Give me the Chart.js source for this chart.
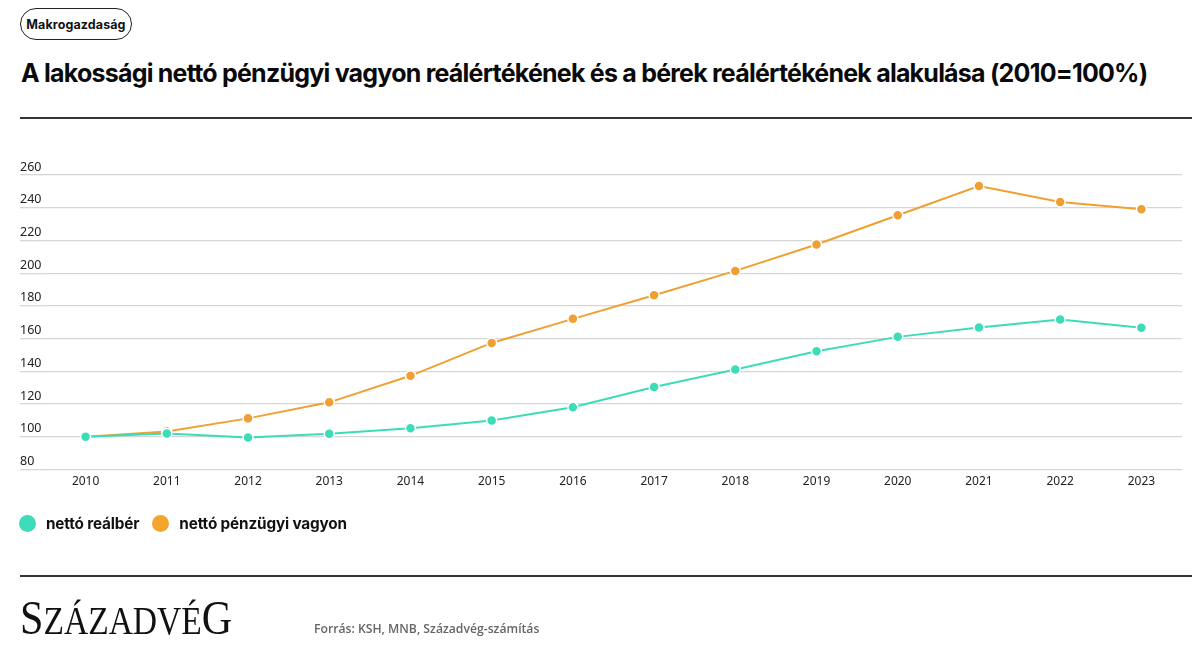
<!DOCTYPE html>
<html>
<head>
<meta charset="utf-8">
<script src="https://cdn.jsdelivr.net/npm/chart.js@4/dist/chart.umd.min.js"></script>
<style>
  html, body { margin: 0; padding: 0; background: #fff; }
  body { width: 1200px; height: 647px; position: relative; overflow: hidden; font-family: Inter, "Noto Sans", sans-serif; color: #111; }
  #pill { position: absolute; left: 20px; top: 8px; width: 110px; height: 30px; border: 1.3px solid #222; border-radius: 16px;
          font: 700 12.5px Inter, sans-serif; display: flex; align-items: center; justify-content: center; letter-spacing: 0.1px; }
  #title { position: absolute; left: 21px; top: 58px; font: 700 25px Inter, sans-serif; letter-spacing: -0.78px; white-space: nowrap; color: #0a0a0a; }
  .rule { position: absolute; left: 20px; width: 1172px; height: 1.5px; background: #333; }
  #chartwrap { position: absolute; left: 0; top: 0; width: 1200px; height: 647px; }
  #legend { position: absolute; left: 19px; top: 514px; display: flex; align-items: center; font: 700 15.3px Inter, sans-serif; letter-spacing: -0.15px; }
  .dot { width: 17px; height: 17px; border-radius: 50%; display: inline-block; margin-right: 10px; }
  .lg { display: flex; align-items: center; margin-right: 13px; }
  #logo { position: absolute; left: 20px; top: 593px; font-family: "Liberation Serif", "DejaVu Serif", serif; color: #111; white-space: nowrap; transform: scaleX(0.86); transform-origin: left top; line-height: 1; }
  #logo .big { font-size: 49px; }
  #logo .sm { font-size: 39px; }
  #source { position: absolute; left: 314px; top: 620px; font: 600 12.2px "Open Sans", sans-serif; color: #666; }
</style>
</head>
<body>
<div id="pill">Makrogazdaság</div>
<div id="title">A lakossági nettó pénzügyi vagyon reálértékének és a bérek reálértékének alakulása (2010=100%)</div>
<div class="rule" style="top:117px"></div>
<div id="chartwrap"><canvas id="c" width="1200" height="647"></canvas></div>
<div id="legend">
  <div class="lg"><span class="dot" style="background:#3ddcb8"></span><span id="l1"></span></div>
  <div class="lg"><span class="dot" style="background:#f4a530"></span><span id="l2"></span></div>
</div>
<div class="rule" style="top:575px"></div>
<div id="logo"><span class="big">S</span><span class="sm">ZÁZADVÉ</span><span class="big">G</span></div>
<div id="source">Forrás: KSH, MNB, Századvég-számítás</div>
<script>
const years = ['2010','2011','2012','2013','2014','2015','2016','2017','2018','2019','2020','2021','2022','2023'];
const seriesNames = ['nettó reálbér', 'nettó pénzügyi vagyon'];
const realWage = [100, 102.1, 99.6, 101.9, 105.3, 110, 118.1, 130.5, 141.1, 152.3, 161.1, 166.8, 171.7, 166.6];
const netFinancialWealth = [100, 103.3, 111.3, 121.1, 137.3, 157.4, 172.1, 186.5, 201.4, 217.5, 235.4, 253.3, 243.5, 239.1];
const yTicks = [80, 100, 120, 140, 160, 180, 200, 220, 240, 260];

const GREEN = '#3ddcb8', ORANGE = '#f0a032';
document.getElementById('l1').textContent = seriesNames[0];
document.getElementById('l2').textContent = seriesNames[1];

new Chart(document.getElementById('c'), {
  type: 'line',
  data: {
    labels: years,
    datasets: [
      { label: seriesNames[0], data: realWage, borderColor: GREEN, backgroundColor: GREEN,
        borderWidth: 2, pointRadius: 5, pointBorderColor: '#fff', pointBorderWidth: 1.5, tension: 0 },
      { label: seriesNames[1], data: netFinancialWealth, borderColor: ORANGE, backgroundColor: ORANGE,
        borderWidth: 2, pointRadius: 5, pointBorderColor: '#fff', pointBorderWidth: 1.5, tension: 0 }
    ]
  },
  options: {
    responsive: false,
    animation: false,
    layout: { padding: { left: 20, right: 18, top: 175, bottom: 153 } },
    plugins: { legend: { display: false }, tooltip: { enabled: false } },
    scales: {
      x: {
        type: 'category',
        offset: true,
        grid: { display: false, drawTicks: false },
        border: { display: false },
        ticks: { color: '#222', padding: 5, font: { family: 'Noto Sans', size: 12 }, maxRotation: 0 }
      },
      y: {
        min: yTicks[0],
        max: yTicks[yTicks.length - 1],
        afterFit: (scale) => { scale.width = 25; },
        grid: { color: '#d6d6d6', lineWidth: 1.3, tickLength: 25, drawTicks: true },
        border: { display: false },
        ticks: {
          stepSize: yTicks[1] - yTicks[0],
          callback: (v) => yTicks.includes(v) ? String(v) : null,
          mirror: true, padding: -25, labelOffset: -8, color: '#222',
          font: { family: 'Noto Sans', size: 12.5 }
        }
      }
    }
  }
});
</script>
</body>
</html>
